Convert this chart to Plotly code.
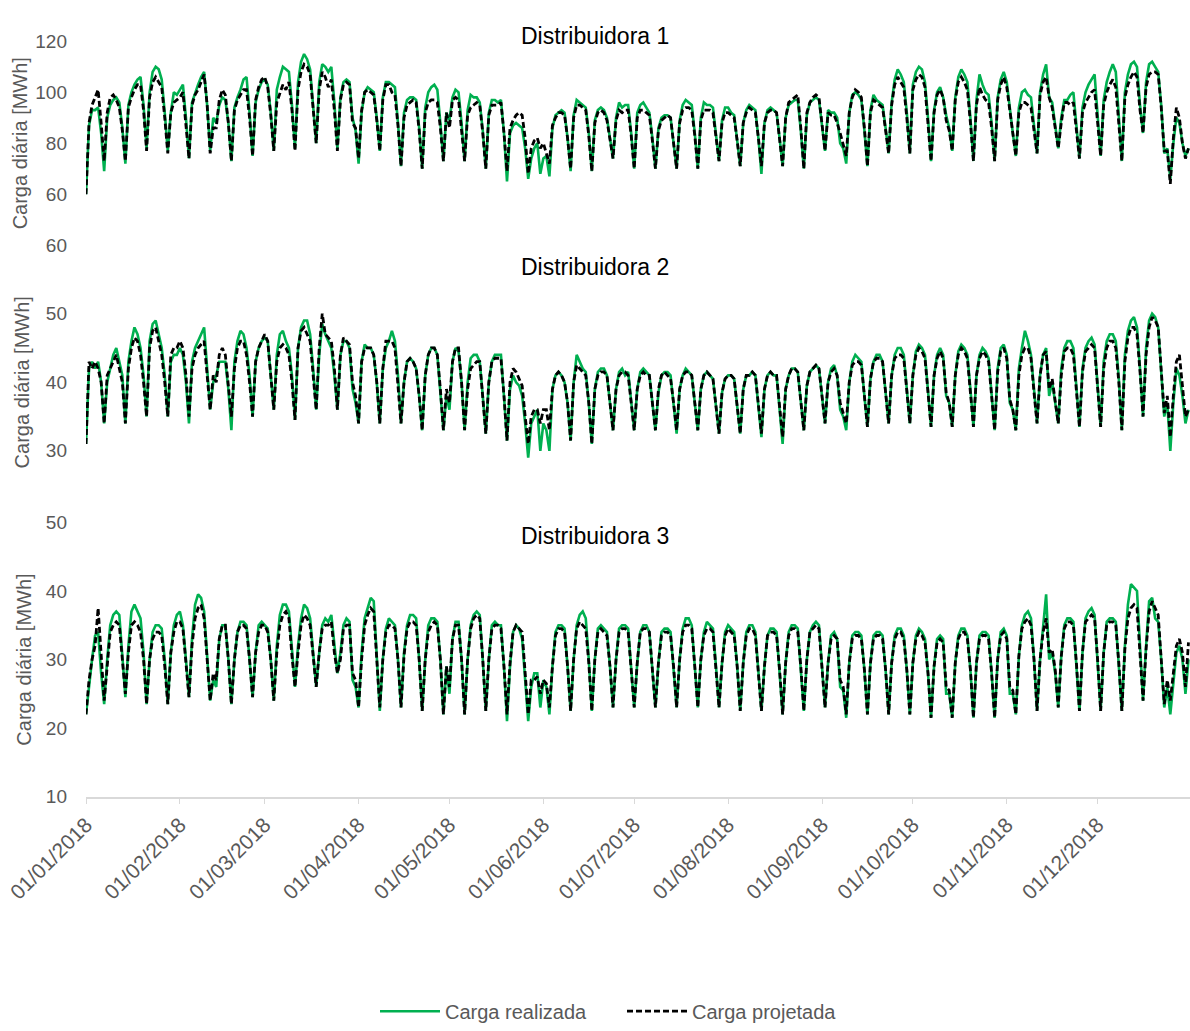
import pandas as pd
import plotly.graph_objects as go

dates = pd.date_range("2018-01-01", "2018-12-31", freq="D")

titles = ["Distribuidora 1", "Distribuidora 2", "Distribuidora 3"]
series_names = ["Carga realizada", "Carga projetada"]
y_title = "Carga diária [MWh]"

d1_realizada = [
    60, 87, 93, 93, 94, 84, 69,
    90, 95, 97, 98, 96, 86, 72,
    95, 100, 103, 105, 106, 95, 78,
    100, 108, 110, 109, 105, 92, 77,
    92, 100, 99, 101, 103, 90, 74,
    96, 100, 103, 106, 108, 95, 77,
    90, 88, 95, 98, 97, 88, 73,
    94, 98, 101, 105, 106, 92, 75,
    96, 101, 104, 105, 103, 92, 77,
    101, 106, 110, 109, 108, 95, 78,
    104, 112, 115, 113, 109, 96, 80,
    104, 111, 110, 108, 110, 96, 78,
    98, 104, 105, 104, 90, 85, 72,
    92, 100, 102, 101, 100, 90, 77,
    98, 104, 104, 103, 102, 88, 71,
    92, 97, 98, 98, 97, 86, 70,
    94, 100, 102, 103, 101, 88, 73,
    92, 89, 98, 101, 100, 88, 73,
    93, 99, 98, 98, 96, 85, 70,
    92, 97, 97, 96, 97, 84, 65,
    84, 87, 88, 87, 86, 78, 66,
    74, 78, 80, 68, 74, 75, 67,
    86, 91, 92, 93, 92, 82, 69,
    91, 97, 96, 95, 94, 84, 69,
    89, 93, 94, 93, 90, 82, 74,
    90, 96, 94, 95, 95, 84, 70,
    92, 95, 96, 94, 92, 82, 70,
    86, 90, 91, 91, 90, 81, 70,
    89, 95, 97, 96, 95, 84, 70,
    90, 96, 95, 95, 94, 84, 73,
    89, 94, 94, 92, 91, 82, 71,
    88, 93, 95, 94, 93, 82, 68,
    88, 93, 94, 93, 92, 82, 71,
    90, 95, 96, 97, 97, 85, 70,
    91, 96, 97, 98, 97, 88, 77,
    93, 92, 92, 90, 80, 78, 72,
    92, 99, 100, 99, 97, 85, 71,
    93, 99, 97, 96, 95, 86, 76,
    96, 105, 109, 107, 104, 92, 76,
    103, 108, 110, 109, 104, 90, 73,
    93, 100, 102, 98, 91, 86, 77,
    98, 106, 109, 107, 104, 90, 73,
    97, 107, 103, 100, 99, 88, 73,
    98, 105, 108, 104, 93, 84, 75,
    94, 100, 101, 99, 98, 87, 76,
    100, 107, 111, 98, 96, 88, 78,
    90, 97, 97, 99, 100, 87, 74,
    94, 100, 103, 105, 107, 91, 75,
    97, 104, 108, 111, 108, 92, 73,
    100, 107, 111, 112, 110, 95, 84,
    104, 111, 112, 110, 108, 95, 76,
    78, 66, 80, 90, 88, 80, 75,
    78,
]

d1_projetada = [
    60, 88, 95, 98, 101, 88, 73,
    92, 98, 99, 97, 94, 85, 73,
    94, 98, 101, 103, 103, 93, 77,
    98, 104, 106, 104, 102, 90, 76,
    92, 96, 97, 98, 100, 88, 74,
    95, 99, 101, 104, 107, 95, 76,
    86, 86, 97, 101, 99, 88, 73,
    93, 97, 99, 101, 101, 90, 75,
    97, 102, 105, 106, 102, 91, 77,
    96, 100, 103, 101, 104, 93, 77,
    101, 108, 111, 110, 107, 94, 80,
    101, 108, 106, 102, 105, 93, 77,
    97, 103, 104, 103, 88, 86, 74,
    93, 100, 101, 100, 99, 89, 77,
    97, 103, 103, 100, 99, 87, 71,
    90, 95, 96, 97, 96, 85, 70,
    92, 96, 97, 97, 96, 86, 73,
    92, 86, 97, 98, 97, 86, 73,
    91, 94, 95, 96, 95, 84, 70,
    91, 95, 95, 95, 96, 84, 69,
    86, 89, 91, 92, 91, 82, 68,
    78, 81, 82, 78, 80, 76, 72,
    87, 90, 92, 92, 91, 82, 70,
    90, 95, 95, 94, 93, 83, 69,
    88, 92, 93, 92, 89, 81, 74,
    89, 93, 92, 93, 93, 83, 70,
    90, 93, 93, 92, 91, 81, 70,
    85, 89, 90, 91, 90, 80, 70,
    88, 93, 94, 94, 93, 83, 70,
    89, 93, 93, 93, 92, 83, 73,
    88, 92, 92, 91, 90, 81, 71,
    88, 92, 94, 93, 92, 82, 71,
    88, 92, 93, 93, 92, 82, 71,
    90, 96, 97, 98, 99, 86, 70,
    92, 96, 98, 99, 98, 88, 77,
    92, 91, 91, 88, 84, 80, 75,
    92, 98, 101, 100, 98, 86, 71,
    92, 97, 96, 95, 94, 85, 76,
    95, 103, 106, 104, 102, 90, 76,
    101, 105, 107, 106, 102, 88, 73,
    92, 99, 101, 98, 89, 85, 77,
    97, 104, 106, 104, 101, 88, 73,
    95, 102, 99, 97, 96, 86, 73,
    97, 103, 106, 102, 92, 84, 75,
    92, 96, 96, 95, 94, 85, 76,
    99, 104, 106, 98, 94, 86, 78,
    88, 96, 96, 95, 96, 86, 74,
    92, 96, 98, 100, 101, 88, 75,
    95, 100, 103, 105, 102, 89, 73,
    98, 103, 106, 108, 106, 93, 84,
    102, 107, 108, 108, 107, 94, 77,
    77, 64, 82, 94, 90, 80, 74,
    78,
]

d2_realizada = [
    31, 42, 43, 42, 43, 40, 34,
    40, 42, 44, 45, 43, 41, 34,
    43, 46, 48, 47, 45, 41, 35,
    46, 48.5, 49, 47, 45, 41, 35,
    43, 44, 44, 45, 44, 40, 34,
    43, 45, 46, 47, 48, 42, 36,
    40, 41, 43, 43, 43, 39, 33,
    43, 46, 47.5, 47, 45, 41, 35,
    43, 45, 46, 46.5, 46, 41, 36,
    44, 47, 47.5, 46, 45, 41, 34.5,
    45, 48, 49, 49, 47, 42, 36,
    44, 48.5, 47, 46, 45, 41, 36,
    44, 46, 46, 45, 39, 37, 34,
    43, 45.5, 45, 45, 44, 40, 34,
    42, 45, 46, 47.5, 46, 41, 34,
    40, 43, 43.5, 43, 42, 38, 33,
    41, 44, 45, 45, 44, 39, 33,
    38, 36, 43, 45, 44.5, 40, 33,
    40, 43.5, 44, 44, 43, 38, 32.5,
    40, 43, 44, 44, 44, 38, 31.5,
    39, 41, 40, 39.5, 38, 34, 29,
    34, 35, 36, 30, 34, 33, 30,
    39, 41, 41.5, 41, 40, 37, 31.5,
    40, 44, 43, 42, 41.5, 37, 31,
    39, 41.5, 42, 42, 41, 37, 33,
    39, 41.5, 42, 41, 41.5, 37, 33,
    39, 41.5, 42, 41.5, 41, 37, 33,
    38.5, 41, 41.5, 41.5, 41, 37, 32.5,
    39, 41, 42, 41.5, 41, 37, 33,
    39, 41, 41.5, 41, 40.5, 36.5, 32.5,
    38.5, 40.5, 41, 41, 40.5, 36.5, 32.5,
    39, 41, 41, 41.5, 41, 36.5, 32,
    39, 41, 41.5, 41, 41, 36, 31,
    39, 41, 42, 42, 41.5, 37, 33,
    39.5, 41.5, 42, 42.5, 42, 37.5, 34,
    40, 42, 42.5, 41, 36, 35, 33,
    40, 43, 44, 43.5, 43, 38, 33.5,
    40.5, 43, 44, 44, 43, 38.5, 34,
    41, 44, 45, 45, 44, 39, 34,
    41, 44.5, 45.5, 45, 44, 39, 33.5,
    41, 44, 45, 44, 38, 37, 33.5,
    41, 44.5, 45.5, 45, 44, 39, 33.5,
    41, 44, 45, 44.5, 43.5, 38.5, 33,
    42, 45, 45.5, 44, 37, 36, 33,
    42, 45, 47.5, 46, 44, 39, 34,
    41, 44, 45, 38, 40, 37, 34,
    42, 45, 46, 46, 45, 39.5, 33.5,
    42, 45, 46, 46.5, 45.5, 40, 33.5,
    43, 46, 47, 47, 46, 40.5, 33,
    44, 47.5, 49, 49.5, 48, 42, 35,
    45, 49, 50, 49.5, 48, 42, 35,
    37, 30, 37, 42, 41, 38, 34,
    36,
]

d2_projetada = [
    31, 43, 42, 43, 42, 40, 34,
    41, 42, 43, 44, 42, 40, 34,
    42, 45, 46.5, 46, 44, 40, 35,
    45, 47.5, 48, 46, 44, 40, 35,
    44, 45, 45, 46, 45, 41, 35,
    42, 44, 45, 45.5, 46, 41, 36,
    41, 40, 44, 45, 44, 40, 35,
    42, 45, 46, 46, 44, 40, 35,
    43, 45, 46, 47, 46, 41, 36,
    43, 45, 45.5, 45, 44, 40, 34.5,
    45, 47.5, 48, 47, 46, 41, 36,
    45, 50, 47, 46.5, 46, 42, 36,
    44, 46.5, 46, 45.5, 40, 38, 34,
    43, 45, 45, 45, 44, 40, 34,
    42, 46, 46, 46, 45, 40, 34,
    40, 43, 43.5, 43, 42, 38, 33,
    41, 44, 45, 45, 44, 39, 33,
    39, 37, 43, 45, 45, 40, 33,
    39, 42, 42.5, 43, 43, 38, 32.5,
    40, 43, 43.5, 43.5, 43.5, 38, 31.5,
    40, 42, 41.5, 40.5, 39.5, 35, 31,
    35, 36, 36, 34, 36, 36, 33,
    39, 41, 41.5, 41, 40, 37, 31.5,
    40, 42.5, 42, 41.5, 41, 37, 31,
    39, 41, 41.5, 41.5, 41, 37, 33,
    39, 41, 41.5, 41.5, 41, 37, 33,
    39, 41, 41.5, 41, 41, 37, 33,
    39, 41, 41.5, 41, 40.5, 37, 33,
    39, 41, 41.5, 41.5, 41, 37, 33,
    39, 41, 41.5, 41, 40.5, 36.5, 32.5,
    38.5, 40.5, 41, 41, 40.5, 36.5, 32.5,
    39, 41, 41, 41.5, 41, 36.5, 32.5,
    39, 41, 41.5, 41, 41, 36.5, 32,
    39, 41, 42, 42, 41.5, 37, 33,
    39.5, 41.5, 42, 42.5, 42, 37.5, 34,
    40, 41.5, 42, 41, 37, 35.5, 34,
    40, 42.5, 43, 43, 42.5, 38, 33.5,
    40.5, 43, 43.5, 43.5, 43, 38.5, 34,
    41, 43.5, 44, 44, 43.5, 38.5, 34,
    41, 44, 45, 44.5, 43.5, 38.5, 33.5,
    41, 43.5, 44.5, 43.5, 38.5, 37, 33.5,
    41, 44, 45, 44.5, 43.5, 38.5, 33.5,
    41, 43.5, 44.5, 44, 43, 38, 33,
    41.5, 44.5, 45, 43.5, 37.5, 36, 33,
    41, 44, 45, 45, 43.5, 38.5, 34,
    41, 44, 44.5, 39, 40.5, 37, 34,
    41, 44.5, 45, 45, 44, 39, 33.5,
    41.5, 44.5, 45, 45.5, 45, 39.5, 33.5,
    42, 45, 46, 46, 45, 40, 33,
    43, 46.5, 48, 48, 47, 41.5, 35,
    44, 48, 49.5, 49, 48, 42, 35.5,
    38, 32, 38, 43, 44, 39, 35,
    36,
]

d3_realizada = [
    22, 26.5, 30, 33.5, 34, 28, 23.5,
    30, 35, 36.5, 37, 36.5, 31, 24.5,
    32, 37, 38, 37, 36, 31, 23.5,
    30, 34, 35, 35, 34.5, 30, 23.5,
    31, 35, 36.5, 37, 35, 30, 24.5,
    33, 38, 39.5, 39, 37, 31, 24,
    27, 26, 33, 35, 35, 30, 23.5,
    30, 34, 35.5, 35.5, 35, 30, 24.5,
    31, 35, 35.5, 35, 34.5, 30, 24,
    32, 36.5, 38, 38, 37, 31, 26,
    32, 36, 38, 37.5, 36, 31, 26,
    31, 35, 36, 35.5, 36.5, 32, 28,
    31, 35, 36, 35.5, 27, 26, 23,
    31, 36, 37.5, 39, 38.5, 31, 22.5,
    30, 34.5, 36, 35.5, 35, 30, 23,
    31, 35, 36.5, 36.5, 36, 30, 22.5,
    30, 35, 36, 36, 35.5, 30, 22,
    29, 25, 33, 35.5, 35.5, 30, 22,
    30, 35, 36.5, 37, 36.5, 30, 22.5,
    30, 35, 35.5, 35, 35, 29, 21,
    29, 34, 35, 34.5, 33, 27, 21,
    26, 28, 28, 23, 27, 26, 22,
    29, 34, 35, 35, 34.5, 29, 22.5,
    30, 35, 36.5, 37, 36, 30, 22.5,
    30, 34.5, 35, 34.5, 34, 29, 23,
    30, 34.5, 35, 35, 34.5, 29, 23,
    29.5, 34, 35, 35, 34, 29, 23,
    29.5, 34, 34.5, 34.5, 34, 29, 23,
    30, 34.5, 36, 36, 35, 29.5, 23,
    30, 34, 35.5, 35, 34.5, 29, 23,
    29.5, 34, 35, 34.5, 34, 29, 22.5,
    29.5, 34, 35, 35, 34, 28.5, 22.5,
    29, 33.5, 34.5, 34.5, 34, 28.5, 22,
    29.5, 34, 35, 35, 34.5, 29, 22.5,
    30, 34, 35, 35.5, 35, 29, 23,
    29.5, 33.5, 34, 33, 26, 25.5, 21.5,
    29.5, 33.5, 34, 34, 33.5, 28.5, 22,
    29.5, 33.5, 34, 34, 33.5, 28.5, 22,
    29.5, 33.5, 34.5, 34.5, 33.5, 28.5, 22,
    29.5, 33.5, 34.5, 34, 33, 28, 21.5,
    29, 33, 33.5, 33, 25, 25, 21.5,
    29.5, 33.5, 34.5, 34.5, 33.5, 28.5, 21.5,
    29.5, 33.5, 34, 34, 33.5, 28, 21.5,
    30, 34, 34.5, 33.5, 25, 25, 22,
    30.5, 35, 36.5, 37, 36, 30, 22.5,
    30, 35, 39.5, 30, 31, 28, 23,
    30.5, 35, 36, 36, 35.5, 29.5, 22.5,
    31, 36, 37, 37.5, 36.5, 30, 22.5,
    31, 35.5, 36, 36, 35.5, 29.5, 22.5,
    32, 38, 41, 40.5, 40, 32, 24,
    32, 38.5, 39, 36, 35.5, 30, 23,
    26, 22, 27, 31, 32, 30, 25,
    30,
]

d3_projetada = [
    22, 27, 30, 32, 37.5, 30, 24,
    29, 34, 35, 35.5, 35, 30, 25,
    31, 35, 35.5, 35, 34, 30, 23.5,
    30, 33, 34, 34, 33.5, 29, 23.5,
    31, 34, 35.5, 35.5, 34.5, 29, 24.5,
    32, 36, 37.5, 38, 36, 30, 24,
    28, 27, 33, 35, 35, 30, 23.5,
    30, 34, 35, 35, 34.5, 30, 24.5,
    31, 34, 35, 35, 34, 30, 24,
    31, 35, 36.5, 37, 36, 30.5, 26,
    31, 35, 36.5, 36, 35, 30.5, 26,
    31, 34.5, 35, 35, 35.5, 31, 28,
    30, 34.5, 35, 35, 28, 27, 23,
    30, 35, 36.5, 37.5, 37, 30.5, 23,
    30, 34, 35, 35, 34.5, 30, 23,
    30.5, 34.5, 35.5, 35.5, 35, 30, 22.5,
    30, 34, 35, 35.5, 35, 30, 22,
    29, 26, 33, 35, 35, 30, 22,
    30, 34.5, 36, 36.5, 36, 30, 22.5,
    30, 34.5, 35, 35, 34.5, 29, 22,
    29.5, 34, 35, 34.5, 34, 28, 22,
    27, 27, 27.5, 25, 27, 26.5, 23,
    29, 33.5, 34.5, 34.5, 34, 29, 22.5,
    30, 34.5, 35.5, 35, 34.5, 29.5, 22.5,
    30, 34, 34.5, 34, 33.5, 29, 23,
    30, 34, 34.5, 34.5, 34, 29, 23,
    29.5, 34, 34.5, 34.5, 34, 29, 23,
    29.5, 33.5, 34, 34, 33.5, 29, 23,
    30, 34, 35, 35, 34.5, 29, 23,
    30, 33.5, 34.5, 34.5, 34, 29, 23,
    29.5, 33.5, 34.5, 34, 33.5, 29, 22.5,
    29.5, 33.5, 34.5, 34.5, 33.5, 28.5, 22.5,
    29, 33.5, 34, 34, 33.5, 28.5, 22,
    29.5, 33.5, 34.5, 34.5, 34, 29, 22.5,
    30, 34, 34.5, 35, 34.5, 29, 23,
    29.5, 33, 33.5, 33, 27, 26, 22,
    29.5, 33, 33.5, 33.5, 33, 28.5, 22,
    29.5, 33, 33.5, 33.5, 33, 28.5, 22,
    29.5, 33, 34, 34, 33, 28.5, 22,
    29.5, 33, 34, 33.5, 32.5, 28, 21.5,
    29, 32.5, 33, 32.5, 26, 25.5, 21.5,
    29.5, 33, 34, 34, 33, 28.5, 21.5,
    29.5, 33, 33.5, 33.5, 33, 28, 21.5,
    30, 33.5, 34, 33, 26, 25.5, 22,
    30.5, 34.5, 35.5, 36, 35, 30, 22.5,
    30, 34, 36, 31, 31.5, 28.5, 23,
    30.5, 34.5, 35.5, 35.5, 35, 29.5, 22.5,
    31, 35.5, 36, 36.5, 36, 30, 22.5,
    31, 35, 35.5, 35.5, 35, 29.5, 22.5,
    31.5, 36, 37.5, 38, 37.5, 31, 24,
    31.5, 37, 38.5, 37.5, 36.5, 30, 23.5,
    27, 24, 28, 32, 33, 31, 26,
    32.5,
]

y_ranges = [[40, 120], [20, 60], [10, 50]]
y_ticks = [[60, 80, 100, 120], [30, 40, 50, 60], [10, 20, 30, 40, 50]]

lens = [len(a) for a in (d1_realizada, d1_projetada, d2_realizada,
                         d2_projetada, d3_realizada, d3_projetada)]
if any(n != len(dates) for n in lens):
    raise ValueError(f"length mismatch {lens} vs {len(dates)}")

W, H = 1190, 1031
ML = 86
GREEN = "#00B050"
GRAY = "#595959"
FONT = "Liberation Sans, Arial, sans-serif"

panels = [
    (d1_realizada, d1_projetada, 32, 240),
    (d2_realizada, d2_projetada, 240, 520),
    (d3_realizada, d3_projetada, 523, 803),
]

fig = go.Figure()
for i, (real, proj, top, bot) in enumerate(panels):
    ax = "" if i == 0 else str(i + 1)
    fig.add_trace(go.Scatter(
        x=dates, y=real, mode="lines", name=series_names[0],
        line=dict(color=GREEN, width=2.6),
        xaxis="x" + ax, yaxis="y" + ax, showlegend=(i == 0),
    ))
    fig.add_trace(go.Scatter(
        x=dates, y=proj, mode="lines", name=series_names[1],
        line=dict(color="#000000", width=2.8, dash="6px,3px"),
        xaxis="x" + ax, yaxis="y" + ax, showlegend=(i == 0),
    ))
    dom = [1 - bot / H, 1 - top / H]
    xa = dict(
        domain=[0, 1], anchor="y" + ax,
        range=["2018-01-01", "2018-12-31 12:00"],
        showgrid=False, zeroline=False,
        tickmode="linear", tick0="2018-01-01", dtick="M1",
        tickformat="%d/%m/%Y", tickangle=-45,
        tickfont=dict(family=FONT, size=21, color=GRAY),
    )
    if i == 2:
        xa.update(showline=True, linecolor="#d9d9d9", linewidth=1.5,
                  ticks="outside", ticklen=6, tickcolor="#d9d9d9",
                  showticklabels=True)
    else:
        xa.update(showline=False, ticks="", showticklabels=False,
                  matches="x3")
    ya = dict(
        domain=dom, anchor="x" + ax, range=y_ranges[i],
        tickvals=y_ticks[i], showgrid=False, zeroline=False,
        showline=False, ticks="", ticklabelstandoff=18,
        tickfont=dict(family=FONT, size=19, color=GRAY),
        title=dict(text=y_title, standoff=[2, 10, 8][i],
                   font=dict(family=FONT, size=20, color=GRAY)),
    )
    fig.update_layout(**{"xaxis" + ax: xa, "yaxis" + ax: ya})

title_py = [27, 262, 537]
for t, py in zip(titles, title_py):
    fig.add_annotation(
        text=t, xref="paper", yref="paper",
        x=(595 - ML) / (W - ML), y=1 - py / H,
        xanchor="center", yanchor="middle", showarrow=False,
        font=dict(family=FONT, size=23, color="#000000"),
    )

fig.update_layout(
    width=W, height=H,
    margin=dict(l=ML, r=0, t=0, b=0),
    paper_bgcolor="white", plot_bgcolor="white",
    font=dict(family=FONT, color=GRAY),
    legend=dict(
        orientation="h", x=(622 - ML) / (W - ML), xanchor="center",
        y=1 - 1022 / H, yanchor="middle",
        font=dict(family=FONT, size=20, color=GRAY),
        itemwidth=60, entrywidth=172, entrywidthmode="pixels",
    ),
    hovermode=False,
)

fig.write_html(
    "out.html",
    config={"displayModeBar": False},
    post_script="document.body.style.margin='0';document.body.style.overflow='hidden';",
)
